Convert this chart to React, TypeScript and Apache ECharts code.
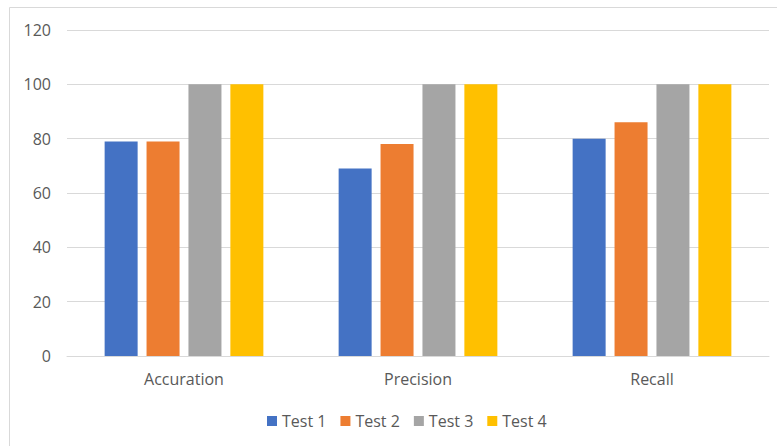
import React, { useEffect, useRef } from "react";
import * as echarts from "echarts";

const categories = ["Accuration", "Precision", "Recall"];
const seriesNames = ["Test 1", "Test 2", "Test 3", "Test 4"];
const test1 = [79, 69, 80];
const test2 = [79, 78, 86];
const test3 = [100, 100, 100];
const test4 = [100, 100, 100];
const colors = ["#4472C4", "#ED7D31", "#A5A5A5", "#FFC000"];

const FONT = "'Open Sans', 'Noto Sans', sans-serif";

export default function App() {
  const ref = useRef<HTMLDivElement>(null);

  useEffect(() => {
    if (!ref.current) return;
    const chart = echarts.init(ref.current, null, { renderer: "svg" });
    const values = [test1, test2, test3, test4];
    chart.setOption({
      animation: false,
      backgroundColor: "#ffffff",
      textStyle: { fontFamily: FONT },
      grid: { left: 67, right: 8, top: 30, bottom: 90, containLabel: false },
      graphic: [
        {
          type: "line",
          shape: { x1: 9.5, y1: 7.5, x2: 777, y2: 7.5 },
          style: { stroke: "#d9d9d9", lineWidth: 1 },
        },
        {
          type: "line",
          shape: { x1: 9.5, y1: 7.5, x2: 9.5, y2: 446 },
          style: { stroke: "#d9d9d9", lineWidth: 1 },
        },
      ],
      legend: {
        bottom: 12,
        left: 262,
        itemWidth: 10,
        itemHeight: 10,
        itemGap: 14,
        icon: "rect",
        textStyle: { color: "#595959", fontSize: 16, fontFamily: FONT },
        data: seriesNames,
      },
      xAxis: {
        type: "category",
        data: categories,
        axisLine: { lineStyle: { color: "#d9d9d9", width: 1 } },
        axisTick: { show: false },
        axisLabel: { color: "#595959", fontSize: 16, margin: 15, fontFamily: FONT },
      },
      yAxis: {
        type: "value",
        min: 0,
        max: 120,
        interval: 20,
        axisLine: { show: false },
        axisTick: { show: false },
        splitLine: { lineStyle: { color: "#d9d9d9", width: 1 } },
        axisLabel: { color: "#595959", fontSize: 16, margin: 16, fontFamily: FONT },
      },
      series: seriesNames.map((name, i) => ({
        name,
        type: "bar",
        data: values[i],
        barWidth: 33,
        barGap: "27%",
        itemStyle: { color: colors[i] },
      })),
    });
    return () => chart.dispose();
  }, []);

  return (
    <div
      ref={ref}
      style={{ position: "fixed", left: 0, top: 0, width: 777, height: 446 }}
    />
  );
}
